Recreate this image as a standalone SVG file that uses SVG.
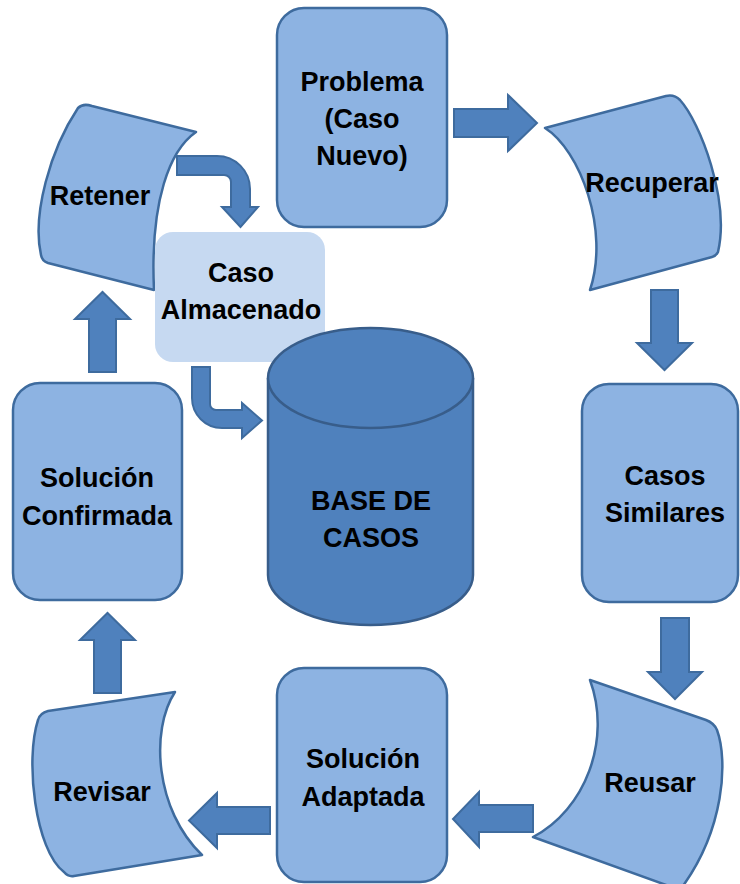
<svg xmlns="http://www.w3.org/2000/svg" width="740" height="884" viewBox="0 0 740 884">
<style>
.node{fill:#8db3e2;stroke:#3e6b9e;stroke-width:2.5;stroke-linejoin:round}
.light{fill:#c6d9f1;stroke:none}
.arrow{fill:#4f81bd;stroke:#3e6b9e;stroke-width:2;stroke-linejoin:miter}
.db{fill:#4f81bd;stroke:#385d8a;stroke-width:2.5}
text{font-family:"Liberation Sans",Arial,sans-serif;font-weight:bold;font-size:27px;fill:#000;text-anchor:middle}
</style>
<rect width="740" height="884" fill="#fff"/>
<g id="connectors">
<polygon class="arrow" points="454,109 508,109 508,95 537,123 508,151 508,137 454,137"/>
<polygon class="arrow" points="651,290 678,290 678,343 692,343 664.5,370 637,343 651,343"/>
<polygon class="arrow" points="661,618 689,618 689,672 702,672 675,699 648,672 661,672"/>
<polygon class="arrow" points="533,805 479,805 479,792 453,819 479,847 479,832 533,832"/>
<polygon class="arrow" points="270,807 217,807 217,793 189,820.5 217,848 217,834 270,834"/>
<polygon class="arrow" points="94,693 94,640 80,640 107.5,613 135,640 121,640 121,693"/>
<polygon class="arrow" points="89,372 89,319 75,319 102.5,292 130,319 116,319 116,372"/>
<path class="arrow" d="M177,156 L217,156 A33,33 0 0 1 250,189 L250,207 L258,207 L240.5,227 L222,207 L231,207 L231,182 A7,7 0 0 0 224,175 L177,175 Z"/>
<path class="arrow" d="M192,367 L210,367 L210,404 A6,6 0 0 0 216,410 L242,410 L242,403 L262,420.5 L242,438 L242,428 L222,428 A30,30 0 0 1 192,398 Z"/>
</g>
<g id="problema">
<rect class="node" x="277" y="8" width="170" height="219" rx="27"/>
<text x="362" y="91">Problema</text>
<text x="362" y="128">(Caso</text>
<text x="362" y="165">Nuevo)</text>
</g>
<g id="recuperar">
<path class="node" d="M545,128 L666,96 Q674,94 680,100 C700,122 730,200 718,252 Q716,256 712,257 L590,290 C610,230 580,150 545,128 Z"/>
<text x="652" y="192">Recuperar</text>
</g>
<g id="casos-similares">
<rect class="node" x="582" y="384" width="156" height="218" rx="27"/>
<text x="665" y="485">Casos</text>
<text x="665" y="522">Similares</text>
</g>
<g id="reusar">
<path class="node" d="M590,680 L706,720 Q714,723 717,730 C728,760 725,830 680,890 L533,837 C585,810 612,740 590,680 Z"/>
<text x="650" y="792">Reusar</text>
</g>
<g id="solucion-adaptada">
<rect class="node" x="277" y="668" width="170" height="214" rx="27"/>
<text x="363" y="768">Solución</text>
<text x="363" y="806">Adaptada</text>
</g>
<g id="revisar">
<path class="node" d="M175,692 C150,730 155,810 202,855 L74,876 Q68,877 64,872 C35,850 25,760 38,720 Q40,713 48,711 Z"/>
<text x="102" y="801">Revisar</text>
</g>
<g id="solucion-confirmada">
<rect class="node" x="13" y="383" width="169" height="217" rx="27"/>
<text x="97" y="487">Solución</text>
<text x="97" y="525">Confirmada</text>
</g>
<g id="retener">
<path class="node" d="M92,106 L196,132 C170,150 150,200 154,290 L48,263 Q42,261 41,255 C32,215 50,150 78,108 Q83,103 92,106 Z"/>
<text x="100" y="205">Retener</text>
</g>
<g id="caso-almacenado">
<rect class="light" x="155" y="232" width="170" height="130" rx="18"/>
<text x="241" y="282">Caso</text>
<text x="241" y="319">Almacenado</text>
</g>
<g id="base-de-casos">
<path class="db" d="M268,378 A102.5,50 0 0 1 473,378 L473,575 A102.5,50 0 0 1 268,575 Z"/>
<path class="db" fill="none" d="M268,378 A102.5,50 0 0 0 473,378"/>
<text x="371" y="510">BASE DE</text>
<text x="371" y="547">CASOS</text>
</g>
</svg>
